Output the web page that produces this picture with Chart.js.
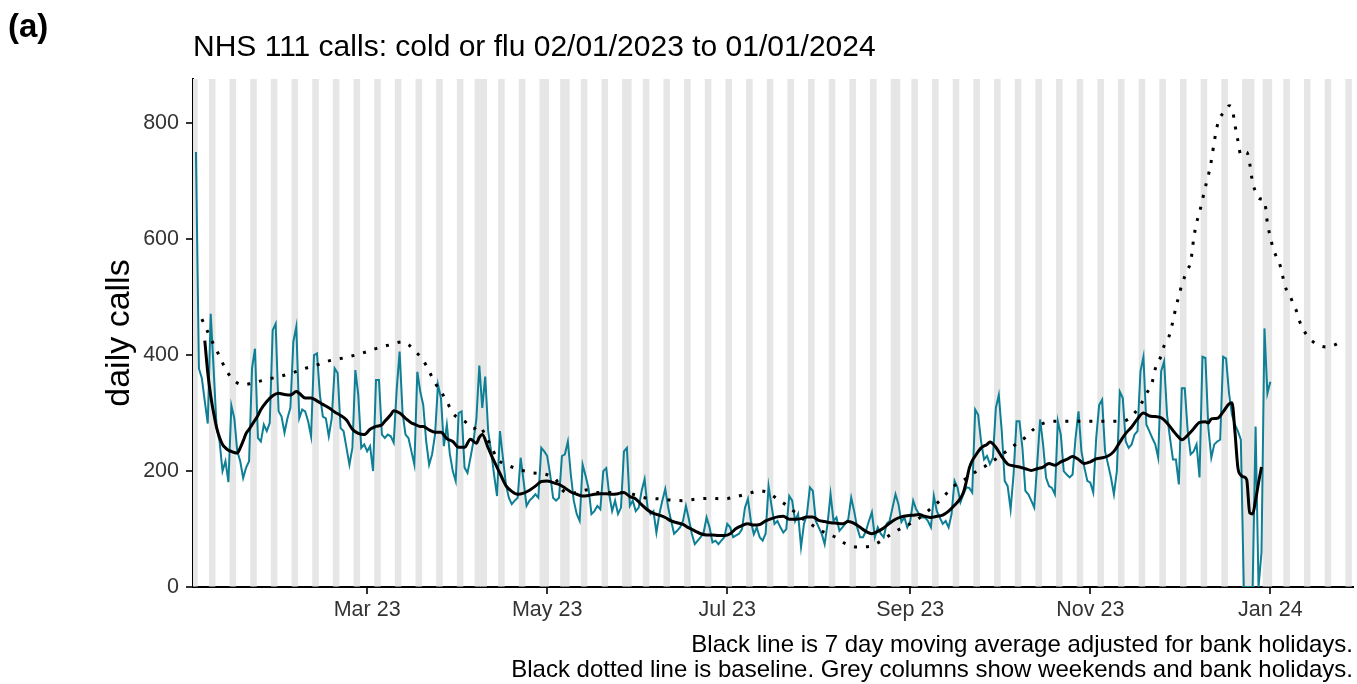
<!DOCTYPE html>
<html>
<head>
<meta charset="utf-8">
<title>NHS 111 calls: cold or flu</title>
<script src="https://cdn.jsdelivr.net/npm/chart.js@4.4.1/dist/chart.umd.min.js"></script>
<style>
  html, body { margin: 0; padding: 0; background: #fff; }
  #wrap { position: relative; width: 1357px; height: 684px; }
  #tag {
    position: absolute; left: 8px; top: 9px;
    font: bold 33px "Liberation Sans", Arial, sans-serif; line-height: 33px; color: #000;
  }
</style>
</head>
<body>
<div id="wrap">
  <canvas id="chart" width="1357" height="684"></canvas>
  <div id="tag">(a)</div>
</div>
<script>
// days are counted from 1 Jan 2023 (day 0)
const firstCallDay = 1; // 02/01/2023

// daily calls, one row per week (Mon..Sun)
const calls = [
  750,377,360,320,282,471,375,
  275,251,200,217,181,313,291,
  234,217,188,206,217,377,411,
  257,251,280,269,283,443,454,
  303,294,266,291,309,423,449,
  291,306,303,286,260,400,403,
  331,294,291,260,291,377,369,
  274,269,240,211,240,374,331,
  240,246,234,243,200,357,357,
  263,257,263,260,249,340,406,
  300,263,257,234,211,371,337,
  314,251,211,229,263,349,326,
  243,280,230,200,183,300,303,
  206,197,223,251,289,382,309,
  363,269,234,194,157,269,223,
  177,154,143,149,154,223,183,
  140,149,154,160,154,240,234,
  226,194,154,149,154,226,229,
  251,194,149,126,114,211,192,
  170,126,131,140,134,200,205,
  160,131,149,126,137,234,240,
  140,149,131,137,166,186,137,
  126,131,94,126,149,169,137,
  114,92,97,103,114,140,117,
  92,74,80,86,94,120,103,
  77,80,74,80,86,109,103,
  86,89,92,100,137,152,114,
  91,103,86,80,92,174,140,
  109,114,103,94,100,157,149,
  114,126,69,109,126,172,166,
  114,103,92,74,110,160,114,
  120,97,103,109,117,154,131,
  103,86,86,97,114,129,86,
  103,92,86,109,114,137,160,
  143,112,120,103,114,149,134,
  126,120,120,114,103,157,131,
  120,109,114,103,126,183,172,
  146,160,172,171,163,306,297,
  251,220,226,212,223,309,331,
  269,183,174,134,194,286,286,
  240,166,160,149,137,212,289,
  246,189,174,171,160,286,263,
  200,194,189,194,257,303,234,
  206,183,180,163,257,314,323,
  234,212,189,160,200,337,326,
  251,240,246,263,269,372,397,
  280,269,257,246,223,372,389,
  297,257,220,220,177,343,343,
  269,229,234,246,189,397,395,
  274,223,246,251,254,397,394,
  334,297,280,269,254,0,0,
  0,0,277,0,60,446,334,
  354
];

// 7 day moving average
const avgDays = [4,5,6,7,8,9,10,11,12,13,14,15,16,17,18,19,20,22,23,25,27,29,31,33,35,36,38,40,42,44,46,48,50,52,54,56,58,60,62,64,65,67,68,70,72,74,75,77,78,80,82,84,86,88,90,92,94,96,97,98,100,102,104,106,108,110,112,114,116,118,120,122,124,126,128,130,132,134,136,138,140,142,144,146,148,150,152,154,156,158,160,162,164,166,168,170,172,174,176,178,180,182,184,186,188,190,192,194,196,198,200,202,204,206,208,210,212,214,216,218,220,222,224,226,228,230,232,234,236,238,240,242,244,246,248,250,252,254,256,258,260,261,262,263,264,265,267,269,270,272,274,276,278,280,282,284,286,288,290,292,294,296,298,300,302,304,306,308,310,312,314,316,318,320,322,324,326,328,330,332,334,335,337,339,341,343,344,345,347,349,351,352,353,354,355,356,357,358,359,360,361,362];
const avgCalls = [425,370,330,300,275,258,246,240,236,234,232,231,240,252,265,272,280,296,306,320,330,334,332,331,337,334,326,326,321,315,309,302,296,288,272,265,263,272,277,280,286,297,304,300,291,283,281,277,277,271,267,267,256,251,241,241,255,248,258,263,240,217,196,175,165,160,162,167,174,182,183,180,177,171,164,160,157,158,160,161,161,160,161,163,156,152,142,133,127,124,120,114,111,108,102,97,92,90,90,89,89,92,101,106,109,107,108,114,118,121,122,117,117,118,121,121,115,113,111,110,109,113,110,103,96,92,96,102,110,117,121,123,124,125,122,120,122,124,131,141,153,163,182,205,218,226,240,246,250,241,225,212,209,207,204,201,204,207,213,210,216,220,225,220,213,216,221,223,226,234,250,265,276,290,300,295,294,292,283,270,258,254,262,273,284,285,283,290,291,302,316,318,268,206,193,190,185,128,126,150,180,207];

// baseline
const baseDays = [3,5,7,9,11,13,15,17,21,25,30,34,38,42,46,50,55,59,63,67,71,73,75,78,80,82,84,86,88,90,92,95,97,99,101,103,105,107,111,115,119,123,125,128,131,134,137,141,145,149,153,158,162,166,171,175,180,184,188,192,195,198,200,203,206,210,214,218,221,225,229,233,237,241,245,248,251,254,257,261,264,268,272,275,279,282,285,289,293,298,302,306,311,315,317,319,321,323,325,326,328,329,331,332,333,334,335,337,338,339,340,341,342,343,344,345,346,347,348,349,350,351,352,353,354,355,356,357,358,359,360,361,362,363,364,365,366,367,368,369,370,371,372,373,374,375,377,380,384,387,389];
const baseCalls = [462,440,418,398,376,361,352,349,353,358,364,370,377,383,390,394,400,406,413,418,423,418,408,391,372,352,337,320,300,291,286,273,278,262,243,222,213,209,202,197,195,185,168,161,165,168,163,163,163,160,154,152,150,149,152,153,152,156,161,166,162,152,145,133,120,106,94,85,75,69,70,79,93,104,115,127,140,154,171,184,195,207,221,232,247,258,273,284,286,286,286,286,286,286,290,300,314,333,354,376,399,416,437,459,482,502,521,548,560,600,628,646,668,690,710,735,768,795,810,817,822,830,826,797,770,745,748,750,730,697,682,671,669,666,628,603,583,570,560,540,518,508,498,485,474,457,437,421,414,418,424];

// axes
const monthTicks = [59, 120, 181, 243, 304, 365];
const monthLabels = ["Mar 23", "May 23", "Jul 23", "Sep 23", "Nov 23", "Jan 24"];
const yTicks = [0, 200, 400, 600, 800];
const xMin = 0, xMax = 393, yMax = 876;

// grey columns: weekends plus these bank holidays
const bankHolidays = ["2023-01-02","2023-04-07","2023-04-10","2023-05-01","2023-05-08","2023-05-29","2023-08-28","2023-12-25","2023-12-26","2024-01-01"];

const FONT = '"Liberation Sans", Arial, sans-serif';
Chart.defaults.font.family = FONT;

const dayToIso = (d) => new Date(Date.UTC(2023, 0, 1 + d)).toISOString().slice(0, 10);

const greyCols = [];
for (let d = xMin; d <= 392; d++) {
  const wd = new Date(Date.UTC(2023, 0, 1 + d)).getUTCDay();
  if (wd === 0 || wd === 6 || bankHolidays.includes(dayToIso(d))) {
    greyCols.push({ x: d, y: yMax });
  }
}

const callPoints = calls.map((v, i) => ({ x: firstCallDay + i, y: v }));
const avgPoints = avgDays.map((d, i) => ({ x: d, y: avgCalls[i] }));
const basePoints = baseDays.map((d, i) => ({ x: d, y: baseCalls[i] }));

new Chart(document.getElementById("chart"), {
  type: "line",
  data: {
    datasets: [
      {
        type: "bar",
        label: "weekends and bank holidays",
        data: greyCols,
        backgroundColor: "#e6e6e6",
        borderWidth: 0,
        barPercentage: 1,
        categoryPercentage: 1,
        order: 10
      },
      {
        label: "daily calls",
        data: callPoints,
        borderColor: "#0e7f94",
        borderWidth: 2,
        pointRadius: 0,
        tension: 0,
        order: 3
      },
      {
        label: "baseline",
        data: basePoints,
        borderColor: "#000",
        borderWidth: 3,
        borderDash: [3, 9],
        borderCapStyle: "butt",
        pointRadius: 0,
        cubicInterpolationMode: "monotone",
        order: 2
      },
      {
        label: "7 day moving average",
        data: avgPoints,
        borderColor: "#000",
        borderWidth: 3,
        pointRadius: 0,
        cubicInterpolationMode: "monotone",
        order: 1
      }
    ]
  },
  options: {
    responsive: false,
    animation: false,
    devicePixelRatio: 1,
    events: [],
    layout: { padding: { left: 0, right: 4, top: 0, bottom: 0 } },
    scales: {
      x: {
        type: "linear",
        min: xMin,
        max: xMax,
        offset: false,
        z: 1,
        afterBuildTicks: (axis) => { axis.ticks = monthTicks.map(v => ({ value: v })); },
        afterFit: (axis) => { axis.height = 36; },
        ticks: {
          autoSkip: false,
          maxRotation: 0,
          padding: 3,
          color: "#333",
          font: { size: 21.5 },
          callback: (v, i) => monthLabels[i]
        },
        grid: { drawOnChartArea: false, drawTicks: true, tickLength: 7, color: "#333", lineWidth: 2, offset: false },
        border: { display: true, color: "#000", width: 2 }
      },
      y: {
        min: 0,
        max: yMax,
        z: 1,
        afterBuildTicks: (axis) => { axis.ticks = yTicks.map(v => ({ value: v })); },
        afterFit: (axis) => { axis.width = 193; },
        ticks: { padding: 7, color: "#333", font: { size: 21.5 } },
        grid: { drawOnChartArea: false, drawTicks: true, tickLength: 7, color: "#333", lineWidth: 2 },
        border: { display: true, color: "#000", width: 2 },
        title: {
          display: true,
          text: "daily calls",
          color: "#000",
          font: { size: 34 },
          padding: { top: 99, bottom: 0 }
        }
      }
    },
    plugins: {
      legend: { display: false },
      tooltip: { enabled: false },
      title: {
        display: true,
        text: "NHS 111 calls: cold or flu 02/01/2023 to 01/01/2024",
        align: "start",
        fullSize: false,
        color: "#000",
        font: { size: 30, weight: "normal" },
        padding: { top: 30, bottom: 13 }
      },
      subtitle: {
        display: true,
        position: "bottom",
        align: "end",
        fullSize: false,
        color: "#000",
        text: [
          "Black line is 7 day moving average adjusted for bank holidays.",
          "Black dotted line is baseline. Grey columns show weekends and bank holidays."
        ],
        font: { size: 24, lineHeight: 1.04 },
        padding: { top: 9.5, bottom: 1.5 }
      }
    }
  }
});
</script>
</body>
</html>
